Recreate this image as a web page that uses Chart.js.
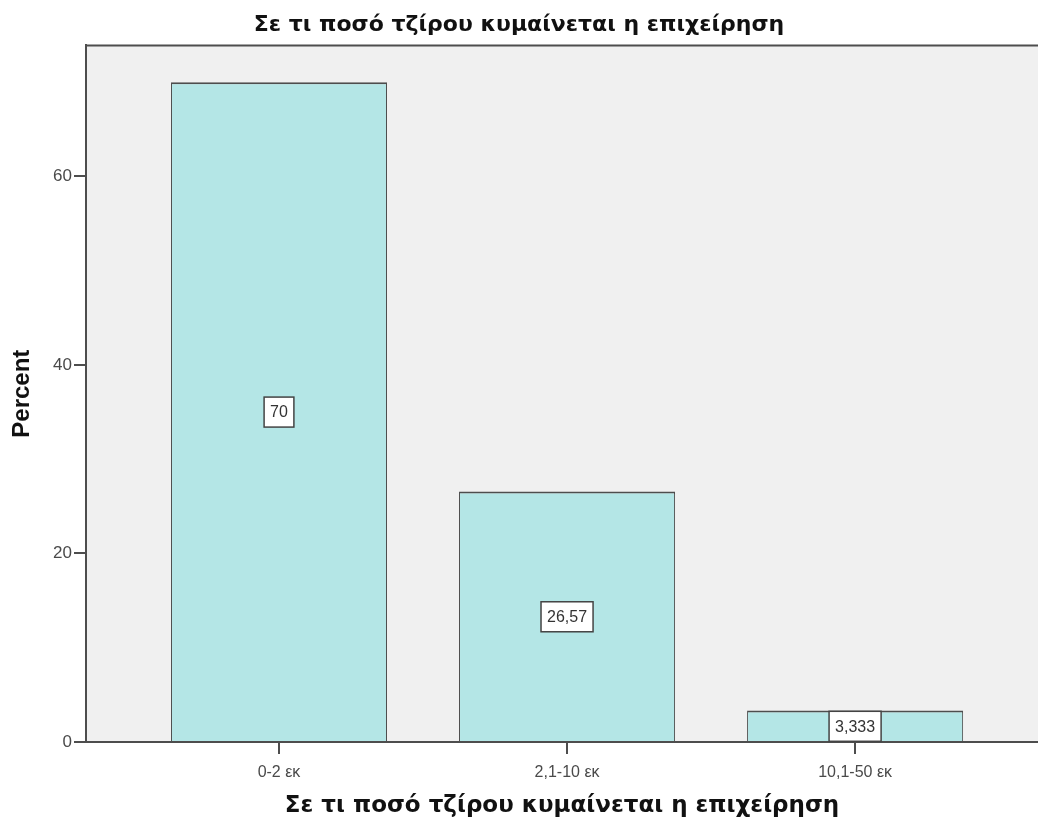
<!DOCTYPE html>
<html lang="el">
<head>
    <meta charset="UTF-8">
    <title>Σε τι ποσό τζίρου κυμαίνεται η επιχείρηση</title>
    <style>
        body {
            margin: 0;
            background-color: white;
            overflow: hidden;
        }
        .chart-container {
            width: 1038px;
            height: 823px;
        }
    </style>
    <script src="https://cdn.jsdelivr.net/npm/chart.js"></script>
</head>
<body>
    <div class="chart-container">
        <canvas id="chart" width="1038" height="823"></canvas>
    </div>

    <script>
        const titulo = 'Σε τι ποσό τζίρου κυμαίνεται η επιχείρηση';
        const categorias = ['0-2 εκ', '2,1-10 εκ', '10,1-50 εκ'];
        const percentuais = [70, 26.57, 3.333];
        const rotulos = ['70', '26,57', '3,333'];
        const ticksY = [0, 20, 40, 60];

        const corEixo = '#4d4d4d';
        const corTexto = '#4a4a4a';

        // fundo cinza da área do gráfico + borda superior
        const fundoPlot = {
            id: 'fundoPlot',
            beforeDraw(chart) {
                const { ctx, chartArea: a } = chart;
                ctx.save();
                ctx.fillStyle = '#f0f0f0';
                ctx.fillRect(a.left, a.top, a.right - a.left, a.bottom - a.top);
                ctx.strokeStyle = corEixo;
                ctx.lineWidth = 2;
                ctx.beginPath();
                ctx.moveTo(a.left, a.top);
                ctx.lineTo(a.right, a.top);
                ctx.stroke();
                ctx.restore();
            }
        };

        // caixinhas com o valor no meio de cada barra
        const rotulosBarras = {
            id: 'rotulosBarras',
            afterDatasetsDraw(chart) {
                const { ctx } = chart;
                const meta = chart.getDatasetMeta(0);
                const y = chart.scales.y;
                ctx.save();
                ctx.font = '16px "Liberation Sans", Arial, sans-serif';
                ctx.textAlign = 'center';
                ctx.textBaseline = 'middle';
                meta.data.forEach((bar, i) => {
                    const cy = y.getPixelForValue(percentuais[i] / 2);
                    const w = ctx.measureText(rotulos[i]).width + 12;
                    const h = 30;
                    ctx.fillStyle = 'white';
                    ctx.fillRect(bar.x - w / 2, cy - h / 2, w, h);
                    ctx.strokeStyle = '#444';
                    ctx.lineWidth = 1.5;
                    ctx.strokeRect(bar.x - w / 2, cy - h / 2, w, h);
                    ctx.fillStyle = '#333';
                    ctx.fillText(rotulos[i], bar.x, cy + 1);
                });
                ctx.restore();
            }
        };

        const ctx = document.getElementById('chart').getContext('2d');
        new Chart(ctx, {
            type: 'bar',
            data: {
                datasets: [{
                    label: 'Percent',
                    data: percentuais.map((v, i) => ({ x: i, y: v })),
                    backgroundColor: '#b4e6e6',
                    borderColor: corEixo,
                    borderWidth: { top: 2, left: 1, right: 1, bottom: 0 },
                    borderSkipped: false,
                    categoryPercentage: 1,
                    barPercentage: 0.75
                }]
            },
            options: {
                responsive: false,
                animation: false,
                layout: { padding: 0 },
                plugins: {
                    legend: { display: false },
                    tooltip: { enabled: false },
                    title: {
                        display: true,
                        text: titulo,
                        color: '#111',
                        font: { family: 'DejaVu Sans', weight: 'bold', size: 22 },
                        padding: { top: 12, bottom: 7 }
                    }
                },
                scales: {
                    x: {
                        type: 'linear',
                        offset: false,
                        min: -0.67,
                        max: 2.635,
                        afterFit(scale) { scale.height = 81; },
                        afterBuildTicks(scale) {
                            scale.ticks = categorias.map((c, i) => ({ value: i }));
                        },
                        grid: {
                            offset: false,
                            drawOnChartArea: false,
                            drawTicks: true,
                            tickLength: 12,
                            color: corEixo,
                            lineWidth: 2
                        },
                        border: { color: corEixo, width: 2 },
                        ticks: {
                            color: corTexto,
                            padding: 9,
                            maxRotation: 0,
                            font: { family: 'Liberation Sans', size: 16 },
                            callback: (v) => categorias[v]
                        },
                        title: {
                            display: true,
                            text: titulo,
                            color: '#111',
                            font: { family: 'DejaVu Sans', weight: 'bold', size: 23 },
                            padding: { top: 0, bottom: 3 }
                        }
                    },
                    y: {
                        min: 0,
                        max: 73.9,
                        afterFit(scale) { scale.width = 86; },
                        afterBuildTicks(scale) {
                            scale.ticks = ticksY.map((v) => ({ value: v }));
                        },
                        grid: {
                            drawOnChartArea: false,
                            drawTicks: true,
                            tickLength: 12,
                            color: corEixo,
                            lineWidth: 2
                        },
                        border: { color: corEixo, width: 2 },
                        ticks: {
                            color: corTexto,
                            padding: 2,
                            font: { family: 'Liberation Sans', size: 17 }
                        },
                        title: {
                            display: true,
                            text: 'Percent',
                            color: '#111',
                            font: { family: 'Liberation Sans', weight: 'bold', size: 24 },
                            padding: { top: 8, bottom: 0 }
                        }
                    }
                }
            },
            plugins: [fundoPlot, rotulosBarras]
        });
    </script>
</body>
</html>
